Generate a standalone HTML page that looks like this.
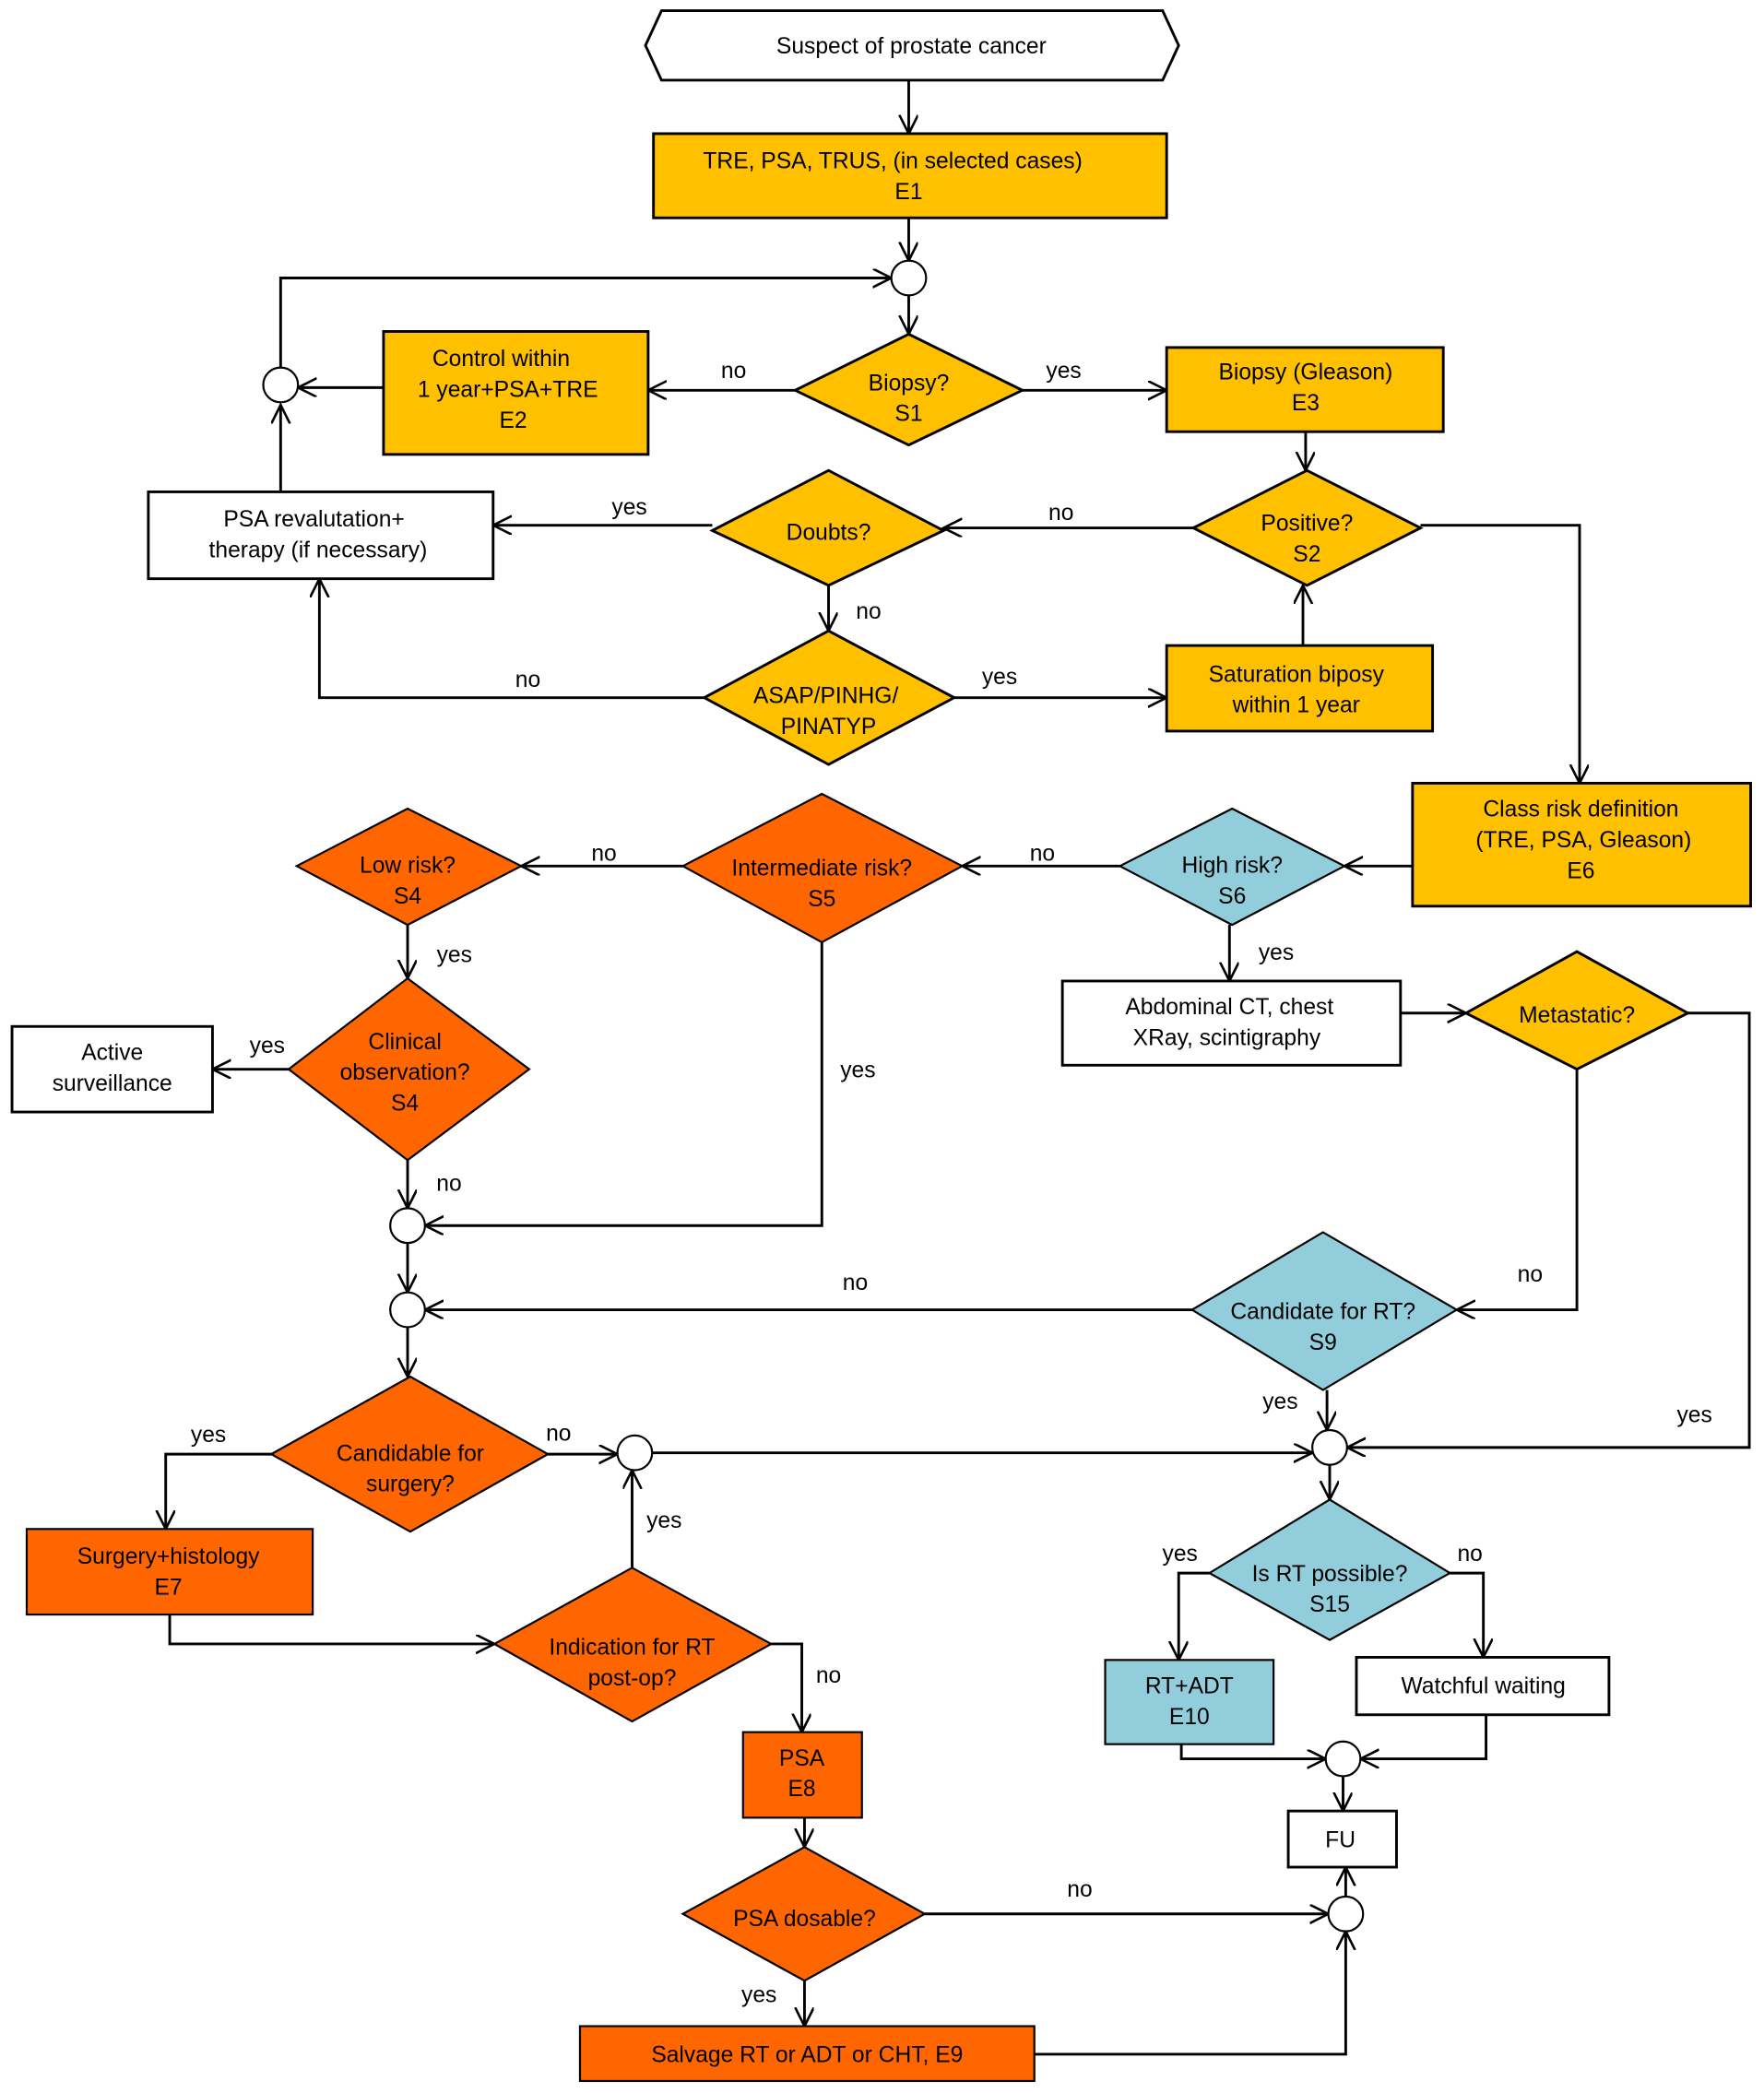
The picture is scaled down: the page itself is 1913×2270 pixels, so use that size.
<!DOCTYPE html>
<html><head><meta charset="utf-8"><style>
html,body{margin:0;padding:0;background:#fff;}
svg{display:block;}
text{font-family:"Liberation Sans",sans-serif;font-size:17px;fill:#000;text-anchor:middle;}
.l{fill:none;stroke:#000;stroke-width:2;}
.y{fill:#FFC000;stroke:#000;stroke-width:2;}
.o{fill:#FF6600;stroke:#000;stroke-width:1.5;}
.b{fill:#92CDDC;stroke:#000;stroke-width:1.5;}
.w{fill:#fff;stroke:#000;stroke-width:2;}
</style></head><body>
<svg width="1913" height="2270" viewBox="0 0 1320 1566" preserveAspectRatio="none" xmlns="http://www.w3.org/2000/svg">
<defs><marker id="a" markerUnits="userSpaceOnUse" markerWidth="16" markerHeight="16" refX="14" refY="7" orient="auto"><path d="M0,0 L14,7 L0,14" fill="none" stroke="#000" stroke-width="1.8"/></marker></defs>
<g class="l" marker-end="url(#a)">
<path d="M680,60V100"/><path d="M680,163V195"/><path d="M680,221V250"/>
<path d="M595,292H485"/><path d="M765,292H873"/><path d="M287,290H223"/>
<path d="M210,368V303"/><path d="M210,275V208H667"/><path d="M977,323V352"/>
<path d="M893,395H706"/><path d="M1063,393H1182V586"/><path d="M533,393H369"/>
<path d="M620,438V472"/><path d="M527,522H239V433"/><path d="M714,522H873"/>
<path d="M975,483V438"/><path d="M1057,648H1006"/><path d="M838,648H720"/>
<path d="M511,648H390"/><path d="M920,692V734"/><path d="M305,692V732"/>
<path d="M216,800H159"/><path d="M305,868V904"/><path d="M615,705V917H318"/>
<path d="M305,930V967"/><path d="M1048,758H1097"/><path d="M1180,800V980H1090"/>
<path d="M1263,758H1309V1083H1008"/><path d="M892,980H318"/><path d="M305,993V1030"/>
<path d="M993,1040V1070"/><path d="M203,1088H124V1144"/><path d="M410,1088H462"/>
<path d="M488,1087H982"/><path d="M473,1173V1100"/><path d="M127,1208V1230H370"/>
<path d="M577,1230H600V1296"/><path d="M995,1096V1122"/><path d="M905,1177H882V1242"/>
<path d="M1085,1177H1110V1240"/><path d="M884,1305V1316H992"/><path d="M1112,1283V1316H1018"/>
<path d="M1005,1329V1355"/><path d="M1007,1419V1397"/><path d="M602,1360V1382"/>
<path d="M692,1432H994"/><path d="M602,1482V1516"/><path d="M774,1537H1007V1445"/>
</g>
<polygon class="w" points="483,34 495,8 870,8 882,34 870,60 495,60"/>
<rect class="y" x="489" y="100" width="384" height="63"/>
<rect class="y" x="287" y="248" width="198" height="92"/>
<rect class="y" x="873" y="260" width="207" height="63"/>
<rect class="w" x="111" y="368" width="258" height="65"/>
<rect class="y" x="873" y="483" width="199" height="64"/>
<rect class="y" x="1057" y="586" width="253" height="92"/>
<rect class="w" x="9" y="768" width="150" height="64"/>
<rect class="w" x="795" y="734" width="253" height="63"/>
<rect class="o" x="20" y="1144" width="214" height="64"/>
<rect class="b" x="827" y="1242" width="126" height="63"/>
<rect class="w" x="1015" y="1240" width="189" height="43"/>
<rect class="w" x="964" y="1355" width="81" height="42"/>
<rect class="o" x="556" y="1296" width="89" height="64"/>
<rect class="o" x="434" y="1516" width="340" height="41"/>
<polygon class="y" points="595,292 680,250 765,292 680,333"/>
<polygon class="y" points="893,395 978,352 1063,395 978,438"/>
<polygon class="y" points="533,397 620,352 706,397 620,438"/>
<polygon class="y" points="527,522 620,472 714,522 620,572"/>
<polygon class="b" points="838,648 922,605 1006,648 922,692"/>
<polygon class="o" points="511,648 615,594 720,648 615,705"/>
<polygon class="o" points="222,648 305,605 390,648 305,692"/>
<polygon class="o" points="216,800 305,732 396,800 305,868"/>
<polygon class="y" points="1097,758 1180,712 1263,758 1180,800"/>
<polygon class="b" points="892,980 990,922 1090,980 990,1040"/>
<polygon class="o" points="203,1088 307,1030 410,1088 307,1146"/>
<polygon class="o" points="370,1230 473,1173 577,1230 473,1288"/>
<polygon class="b" points="905,1177 995,1122 1085,1177 995,1227"/>
<polygon class="o" points="511,1432 602,1382 692,1432 602,1482"/>
<g fill="#fff" stroke="#000" stroke-width="1.5">
<circle cx="680" cy="208" r="13"/><circle cx="210" cy="288" r="13"/>
<circle cx="305" cy="917" r="13"/><circle cx="305" cy="980" r="13"/>
<circle cx="475" cy="1087" r="13"/><circle cx="995" cy="1083" r="13"/>
<circle cx="1005" cy="1316" r="13"/><circle cx="1007" cy="1432" r="13"/>
</g>
<text x="682" y="40">Suspect of prostate cancer</text>
<text x="668" y="126">TRE, PSA, TRUS, (in selected cases)</text><text x="680" y="149">E1</text>
<text x="375" y="274">Control within</text><text x="380" y="297">1 year+PSA+TRE</text><text x="384" y="320">E2</text>
<text x="680" y="292">Biopsy?</text><text x="680" y="315">S1</text>
<text x="977" y="284">Biopsy (Gleason)</text><text x="977" y="307">E3</text>
<text x="978" y="397">Positive?</text><text x="978" y="420">S2</text>
<text x="620" y="404">Doubts?</text>
<text x="235" y="394">PSA revalutation+</text><text x="238" y="417">therapy  (if necessary)</text>
<text x="618" y="526">ASAP/PINHG/</text><text x="620" y="549">PINATYP</text>
<text x="970" y="510">Saturation biposy</text><text x="970" y="533">within 1 year</text>
<text x="1183" y="611">Class risk definition</text><text x="1185" y="634">(TRE, PSA, Gleason)</text><text x="1183" y="657">E6</text>
<text x="922" y="653">High risk?</text><text x="922" y="676">S6</text>
<text x="615" y="655">Intermediate risk?</text><text x="615" y="678">S5</text>
<text x="305" y="653">Low risk?</text><text x="305" y="676">S4</text>
<text x="303" y="785">Clinical</text><text x="303" y="808">observation?</text><text x="303" y="831">S4</text>
<text x="84" y="793">Active</text><text x="84" y="816">surveillance</text>
<text x="920" y="759">Abdominal CT, chest</text><text x="918" y="782">XRay, scintigraphy</text>
<text x="1180" y="765">Metastatic?</text>
<text x="990" y="987">Candidate for RT?</text><text x="990" y="1010">S9</text>
<text x="307" y="1093">Candidable for</text><text x="307" y="1116">surgery?</text>
<text x="126" y="1170">Surgery+histology</text><text x="126" y="1193">E7</text>
<text x="473" y="1238">Indication for RT</text><text x="473" y="1261">post-op?</text>
<text x="995" y="1183">Is RT possible?</text><text x="995" y="1206">S15</text>
<text x="890" y="1267">RT+ADT</text><text x="890" y="1290">E10</text>
<text x="1110" y="1267">Watchful waiting</text>
<text x="1003" y="1382">FU</text>
<text x="600" y="1321">PSA</text><text x="600" y="1344">E8</text>
<text x="602" y="1441">PSA dosable?</text>
<text x="604" y="1543">Salvage RT or ADT or CHT, E9</text>
<text x="549" y="283">no</text><text x="796" y="283">yes</text>
<text x="794" y="389">no</text><text x="471" y="385">yes</text>
<text x="650" y="463">no</text><text x="395" y="514">no</text><text x="748" y="512">yes</text>
<text x="780" y="644">no</text><text x="452" y="644">no</text>
<text x="955" y="718">yes</text><text x="340" y="720">yes</text><text x="200" y="788">yes</text>
<text x="336" y="891">no</text><text x="642" y="806">yes</text>
<text x="1145" y="959">no</text><text x="1268" y="1064">yes</text><text x="640" y="965">no</text>
<text x="958" y="1054">yes</text><text x="156" y="1079">yes</text><text x="418" y="1078">no</text>
<text x="497" y="1143">yes</text><text x="620" y="1259">no</text>
<text x="883" y="1168">yes</text><text x="1100" y="1168">no</text>
<text x="808" y="1419">no</text><text x="568" y="1498">yes</text>
</svg>
</body></html>
